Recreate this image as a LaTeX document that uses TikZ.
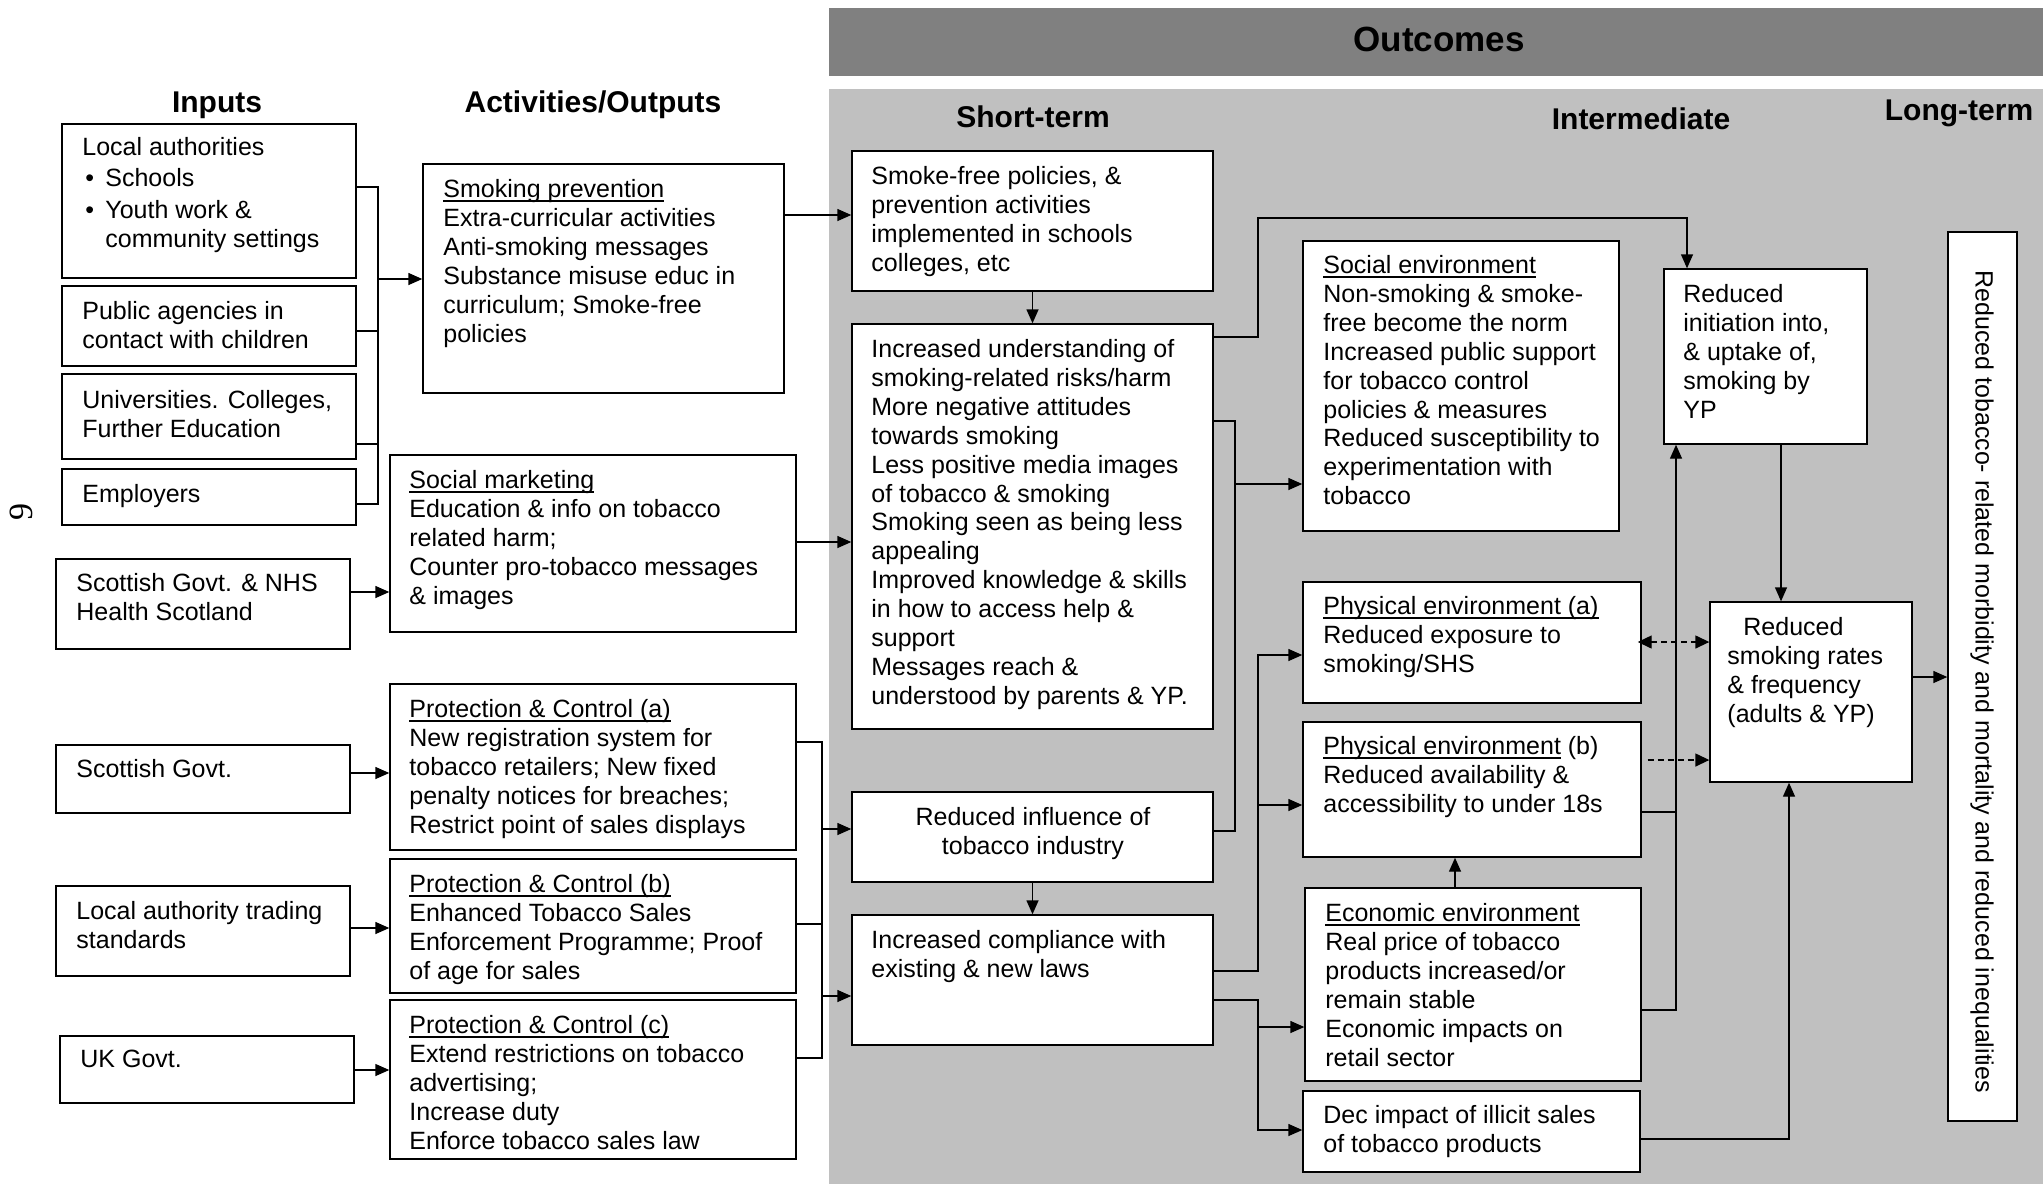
\documentclass[tikz,border=0pt]{standalone}
\usepackage{fontspec}
\setmainfont{Liberation Sans}
\newfontfamily\pgnumfont{Liberation Serif}
\usetikzlibrary{arrows.meta,fit}
\newcommand\bodyfs{\fontsize{12.5pt}{14.45pt}\selectfont}
\newcommand\hdfs{\fontsize{15pt}{18pt}\selectfont\bfseries}
\newcommand\myul[1]{\setbox0=\hbox{#1}\rlap{\rule[-2.1pt]{\wd0}{0.7pt}}\box0\relax}
\newcommand\bul{\hspace*{1.5pt}\makebox[10pt][l]{\textbullet}}
\definecolor{bandgray}{RGB}{128,128,128}
\definecolor{bggray}{RGB}{192,192,192}
\tikzset{
  bx/.style={draw=black, line width=0.7pt, fill=white, inner sep=0pt},
  tx/.style={anchor=north west, inner sep=0pt, align=left, font=\bodyfs},
  hd/.style={anchor=base, inner sep=0pt, font=\hdfs},
  ln/.style={line width=0.7pt},
  arr/.style={ln, -{Triangle[length=7pt,width=6pt]}},
  darr/.style={ln, dash pattern=on 3pt off 2pt, -{Triangle[length=7pt,width=6.5pt]}},
  ddarr/.style={ln, dash pattern=on 3pt off 2pt, {Triangle[length=7pt,width=6.5pt]}-{Triangle[length=7pt,width=6.5pt]}},
}
\begin{document}
\begin{tikzpicture}[x=0.5pt,y=-0.5pt]
\useasboundingbox (0,0) rectangle (2043,1184);
\fill[white] (0,0) rectangle (2043,1184);
\fill[bggray] (829,89) rectangle (2043,1184);
\node[fill=bandgray, inner sep=0pt, fit={(829,8) (2043,76)}] (band) {};
\node[anchor=base, inner sep=0pt, font=\fontsize{17.5pt}{20pt}\selectfont\bfseries] (outc) at (1439,51) {Outcomes};

% headings
\node[hd] (hin) at (217,112) {Inputs};
\node[hd] (hact) at (593,112) {Activities/Outputs};
\node[hd] (hst) at (1033,127) {Short-term};
\node[hd] (hint) at (1641,129) {Intermediate};
\node[hd] (hlt) at (1959,120) {Long-term};
\node[rotate=90, inner sep=0pt, font=\pgnumfont\fontsize{17pt}{19pt}\selectfont] (pg) at (21,512) {9};

% input boxes
\node[bx, fit={(62,124) (356,278)}] (la) {};
\node[bx, fit={(62,286) (356,366)}] (pa) {};
\node[bx, fit={(62,374) (356,459)}] (un) {};
\node[bx, fit={(62,469) (356,525)}] (em) {};
\node[bx, fit={(56,559) (350,649)}] (snhs) {};
\node[bx, fit={(56,745) (350,813)}] (sg) {};
\node[bx, fit={(56,886) (350,976)}] (lats) {};
\node[bx, fit={(60,1036) (354,1103)}] (uk) {};

\node[tx] (lat) at (82,137) {Local authorities\\[1.2pt]\bul Schools\\[1.2pt]\bul Youth work \&\\\hspace*{11.5pt}community settings};
\node[tx] (pat) at (82,301) {Public agencies in\\contact with children};
\node[tx] (unt) at (82,390) {Universities. Colleges,\\Further Education};
\node[tx] (emt) at (82,484) {Employers};
\node[tx] (snhst) at (76,573) {Scottish Govt. \& NHS\\Health Scotland};
\node[tx] (sgt) at (76,759) {Scottish Govt.};
\node[tx] (latst) at (76,901) {Local authority trading\\standards};
\node[tx] (ukt) at (80,1050) {UK Govt.};

% activity boxes
\node[bx, fit={(423,164) (784,393)}] (sp) {};
\node[bx, fit={(390,455) (796,632)}] (sm) {};
\node[bx, fit={(390,684) (796,850)}] (pca) {};
\node[bx, fit={(390,859) (796,993)}] (pcb) {};
\node[bx, fit={(390,1000) (796,1159)}] (pcc) {};

\node[tx] (spt) at (443,179) {\myul{Smoking prevention}\\Extra-curricular activities\\Anti-smoking messages\\Substance misuse educ in\\curriculum; Smoke-free\\policies};
\node[tx] (smt) at (409,470) {\myul{Social marketing}\\Education \& info on tobacco\\related harm;\\Counter pro-tobacco messages\\\& images};
\node[tx] (pcat) at (409,699) {\myul{Protection \& Control (a)}\\New registration system for\\tobacco retailers; New fixed\\penalty notices for breaches;\\Restrict point of sales displays};
\node[tx] (pcbt) at (409,874) {\myul{Protection \& Control (b)}\\Enhanced Tobacco Sales\\Enforcement Programme; Proof\\of age for sales};
\node[tx] (pcct) at (409,1015) {\myul{Protection \& Control (c)}\\Extend restrictions on tobacco\\advertising;\\Increase duty\\Enforce tobacco sales law};

% outcome boxes
\node[bx, fit={(852,151) (1213,291)}] (sf) {};
\node[bx, fit={(852,324) (1213,729)}] (iu) {};
\node[bx, fit={(852,792) (1213,882)}] (rin) {};
\node[bx, fit={(852,915) (1213,1045)}] (ic) {};
\node[bx, fit={(1303,241) (1619,531)}] (se) {};
\node[bx, fit={(1303,582) (1641,703)}] (pea) {};
\node[bx, fit={(1303,722) (1641,857)}] (peb) {};
\node[bx, fit={(1305,888) (1641,1081)}] (ee) {};
\node[bx, fit={(1303,1091) (1640,1172)}] (di) {};
\node[bx, fit={(1664,269) (1867,444)}] (ri) {};
\node[bx, fit={(1710,602) (1912,782)}] (rs) {};
\node[bx, fit={(1948,232) (2017,1121)}] (lt) {};

\node[tx] (sft) at (871,166) {Smoke-free policies, \&\\prevention activities\\implemented in schools\\colleges, etc};
\node[tx] (iut) at (871,339) {Increased understanding of\\smoking-related risks/harm\\More negative attitudes\\towards smoking\\Less positive media images\\of tobacco \& smoking\\Smoking seen as being less\\appealing\\Improved knowledge \& skills\\in how to access help \&\\support\\Messages reach \&\\understood by parents \& YP.};
\node[tx, anchor=north, align=center] (rint) at (1033,807) {Reduced influence of\\tobacco industry};
\node[tx] (ict) at (871,930) {Increased compliance with\\existing \& new laws};
\node[tx] (set) at (1323,255) {\myul{Social environment}\\Non-smoking \& smoke-\\free become the norm\\Increased public support\\for tobacco control\\policies \& measures\\Reduced susceptibility to\\experimentation with\\tobacco};
\node[tx] (peat) at (1323,596) {\myul{Physical environment (a)}\\Reduced exposure to\\smoking/SHS};
\node[tx] (pebt) at (1323,736) {\myul{Physical environment} (b)\\Reduced availability \&\\accessibility to under 18s};
\node[tx] (eet) at (1325,903) {\myul{Economic environment}\\Real price of tobacco\\products increased/or\\remain stable\\Economic impacts on\\retail sector};
\node[tx] (dit) at (1323,1105) {Dec impact of illicit sales\\of tobacco products};
\node[tx] (rit) at (1683,284) {Reduced\\initiation into,\\\& uptake of,\\smoking by\\YP};
\node[tx] (rst) at (1727,617) {\hspace*{8pt}Reduced\\smoking rates\\\& frequency\\(adults \& YP)};
\node[rotate=-90, anchor=west, inner sep=0pt, font=\bodyfs] (ltt) at (1982,270) {Reduced tobacco- related morbidity and mortality and reduced inequalities};

% input bracket
\coordinate (brT) at (378,187);
\coordinate (brB) at (378,504);
\coordinate (brA) at (378,279);
\draw[ln] (la.east |- brT) -- (brT) -- (brB) -- (em.east |- brB);
\draw[ln] (pa.east |- 0,331) -- (brT |- 0,331);
\draw[ln] (un.east |- 0,444) -- (brT |- 0,444);
\draw[arr] (brA) -- (sp.west |- brA);

\draw[arr] (sp.east |- 0,215) -- (sf.west |- 0,215);
\draw[arr] (sm.east |- 0,542) -- (iu.west |- 0,542);
\draw[arr] (snhs.east |- 0,592) -- (sm.west |- 0,592);
\draw[arr] (sg.east |- 0,773) -- (pca.west |- 0,773);
\draw[arr] (lats.east |- 0,928) -- (pcb.west |- 0,928);
\draw[arr] (uk.east |- 0,1070) -- (pcc.west |- 0,1070);

% protection bracket
\coordinate (pcT) at (822,742);
\coordinate (pcB) at (822,1058);
\draw[ln] (pca.east |- pcT) -- (pcT) -- (pcB) -- (pcc.east |- pcB);
\draw[ln] (pcb.east |- 0,924) -- (pcT |- 0,924);
\draw[arr] (pcT |- 0,829) -- (rin.west |- 0,829);
\draw[arr] (pcT |- 0,996) -- (ic.west |- 0,996);

% outcome connectors
\coordinate (jA) at (1258,218);
\coordinate (jB) at (1235,831);
\coordinate (jC) at (1258,655);
\coordinate (jD) at (1258,1130);
\draw[arr] (sf.south) -- (iu.north);
\draw[arr] (rin.south) -- (ic.north);
\draw[arr] (iu.east |- 0,337) -| (jA) -| (ri.north -| 1687,0);
\draw[ln] (iu.east |- 0,421) -| (jB) -- (rin.east |- jB);
\draw[arr] (jB |- 0,484) -- (se.west |- 0,484);
\draw[arr] (ic.east |- 0,971) -| (jC) -- (pea.west |- jC);
\draw[arr] (jC |- 0,805) -- (peb.west |- 0,805);
\draw[arr] (ic.east |- 0,1000) -| (jD) -- (di.west |- jD);
\draw[arr] (jD |- 0,1027) -- (ee.west |- 0,1027);
\draw[arr] (ee.north -| 1455,0) -- (peb.south -| 1455,0);
\draw[ln] (peb.east |- 0,812) -- (1676,812);
\draw[arr] (ee.east |- 0,1010) -| (ri.south -| 1676,0);
\draw[ddarr] ([xshift=-2pt]pea.east |- 0,642) -- (rs.west |- 0,642);
\draw[darr] ([xshift=3pt]peb.east |- 0,760) -- (rs.west |- 0,760);
\draw[arr] (ri.south -| 1781,0) -- (rs.north -| 1781,0);
\draw[arr] (di.east |- 0,1139) -| (rs.south -| 1789,0);
\draw[arr] (rs.east |- 0,677) -- (lt.west |- 0,677);
\end{tikzpicture}
\end{document}
